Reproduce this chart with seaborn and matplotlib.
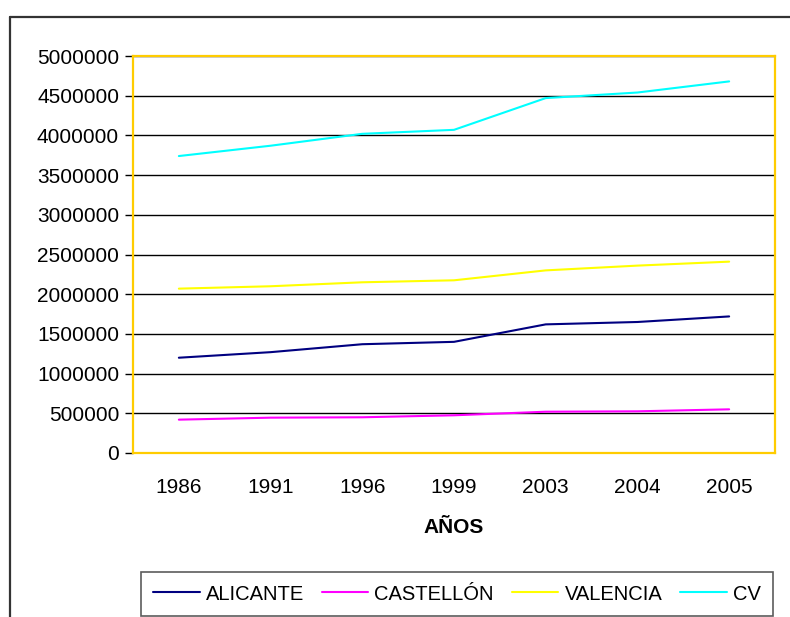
import pandas as pd
import numpy as np
import matplotlib
matplotlib.use('Agg')
import matplotlib.pyplot as plt
import seaborn as sns
from matplotlib.lines import Line2D

# datos (población por año)
anios = ['1986', '1991', '1996', '1999', '2003', '2004', '2005']
alicante = [1200000, 1270000, 1370000, 1400000, 1620000, 1650000, 1720000]
castellon = [420000, 445000, 450000, 475000, 520000, 525000, 550000]
valencia = [2070000, 2100000, 2150000, 2175000, 2300000, 2360000, 2410000]
cv = [3740000, 3870000, 4020000, 4070000, 4470000, 4540000, 4680000]
series = ['ALICANTE', 'CASTELLÓN', 'VALENCIA', 'CV']
colores = ['#000080', '#FF00FF', '#FFFF00', '#00FFFF']

df = pd.DataFrame({'AÑOS': anios * 4,
                   'valor': alicante + castellon + valencia + cv,
                   'serie': np.repeat(series, len(anios))})

sns.set_style('white')
plt.rcParams['font.family'] = ['Liberation Sans', 'DejaVu Sans']
plt.rcParams['text.color'] = 'black'
plt.rcParams['axes.labelcolor'] = 'black'
plt.rcParams['xtick.color'] = 'black'
plt.rcParams['ytick.color'] = 'black'

fig = plt.figure(figsize=(7.9, 6.17), dpi=100)
ax = fig.add_axes([133/790, 1-453/617, 642/790, 397/617])

sns.lineplot(data=df, x='AÑOS', y='valor', hue='serie', palette=colores,
             linewidth=1.5, legend=False, ax=ax, sort=False)

ax.set_xlim(-0.5, 6.5)
ax.set_ylim(0, 5000000)
ax.set_yticks(np.arange(0, 5000001, 500000))
ax.set_yticklabels([str(v) for v in range(0, 5000001, 500000)], fontsize=15)
ax.yaxis.grid(True, color='black', linewidth=1)
ax.set_axisbelow(True)
ax.set_xticks(range(len(anios)))
ax.set_xticklabels(anios, fontsize=15)
ax.set_xticks(np.arange(-0.5, 7, 1), minor=True)
ax.tick_params(axis='x', which='major', length=0, pad=18)
ax.tick_params(axis='x', which='minor', length=6, width=1, color='black', direction='out')
ax.tick_params(axis='y', length=6, width=1, color='black', direction='out', left=True, pad=4)
ax.set_ylabel('')
ax.set_xlabel('AÑOS', fontsize=15, fontweight='bold', labelpad=15)
for s in ax.spines.values():
    s.set_color('#FFCC00')
    s.set_linewidth(1.6)

# marco exterior
fig.add_artist(Line2D([10/790, 1], [1-17/617, 1-17/617], color='#333333', lw=1.6, transform=fig.transFigure))
fig.add_artist(Line2D([10/790, 10/790], [0, 1-17/617], color='#333333', lw=1.6, transform=fig.transFigure))

handles = [Line2D([], [], color=c, lw=1.5) for c in colores]
leg = fig.legend(handles, series, loc='center', bbox_to_anchor=(457/790, 1-594/617), ncol=4,
                 frameon=True, fancybox=False, edgecolor='#333333',
                 handlelength=2.3, handletextpad=0.3, columnspacing=0.9, borderpad=0.6,
                 prop={'family': 'Liberation Sans', 'size': 14.5})
leg.get_frame().set_linewidth(1.2)

fig.savefig('out.png', dpi=100)
